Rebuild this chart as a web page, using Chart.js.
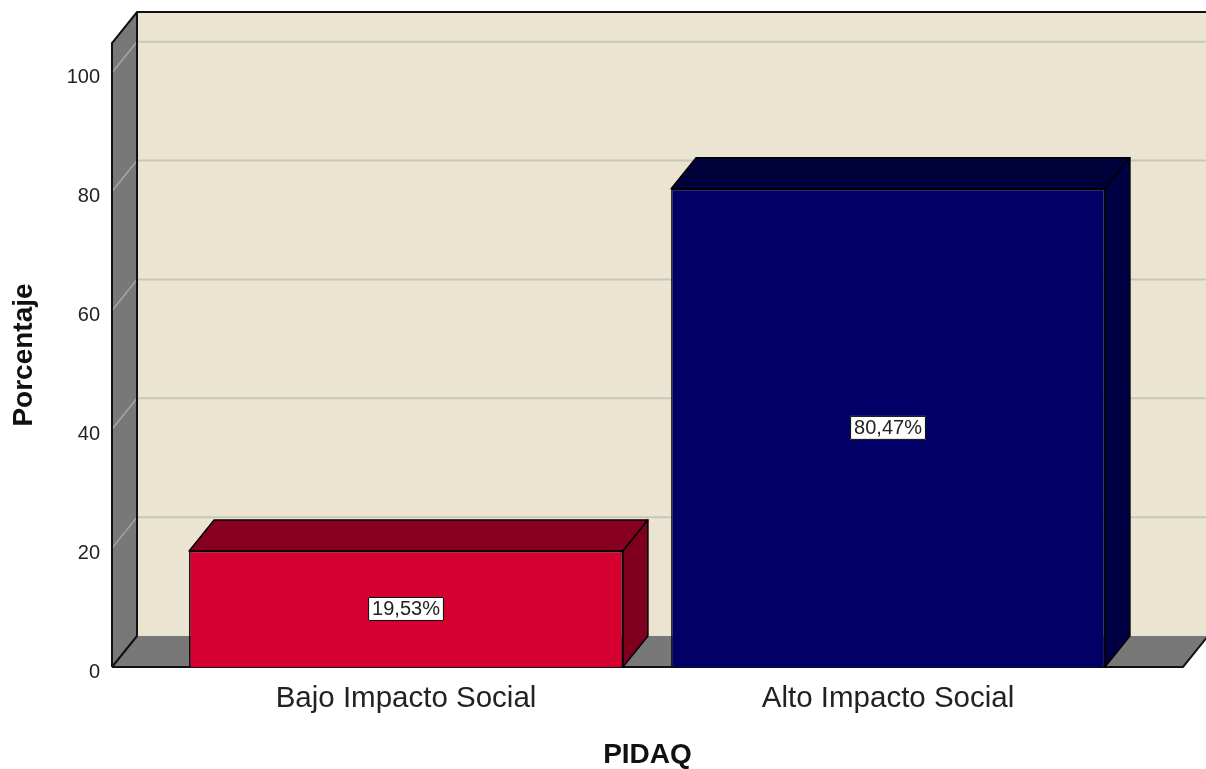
<!DOCTYPE html>
<html>
<head>
<meta charset="utf-8">
<script src="https://cdn.jsdelivr.net/npm/chart.js@4"></script>
<style>
  body { margin: 0; background: #fff; }
  #wrap { width: 1206px; height: 769px; }
</style>
</head>
<body>
<div id="wrap"><canvas id="chart" width="1206" height="769"></canvas></div>
<script>
// data
const categories = ['Bajo Impacto Social', 'Alto Impacto Social'];
const percentValues = [19.53, 80.47];
const valueLabels = ['19,53%', '80,47%'];
const yTickStep = 20;

const frontColors = ['#D60030', '#000066'];
const topColors = ['#870020', '#00003A'];
const sideColors = ['#7E001E', '#000044'];

// 3d depth offset
const DX = 25, DY = -31;
const FONT = 'Liberation Sans, Arial, sans-serif';

const box3d = {
  id: 'box3d',
  beforeDatasetsDraw(chart) {
    const ctx = chart.ctx;
    const a = chart.chartArea;
    const y = chart.scales.y;
    const W = chart.width;
    ctx.save();
    // back wall
    ctx.fillStyle = '#EAE4D0';
    ctx.fillRect(a.left + DX, a.top + DY, W - a.left, a.bottom - a.top);
    // gridlines on back wall
    y.ticks.forEach(t => {
      if (t.value === 0) return;
      const py = y.getPixelForValue(t.value);
      ctx.strokeStyle = '#C9C6BC';
      ctx.lineWidth = 2;
      ctx.beginPath();
      ctx.moveTo(a.left + DX, py + DY);
      ctx.lineTo(W, py + DY);
      ctx.stroke();
    });
    // left wall
    ctx.fillStyle = '#787878';
    ctx.beginPath();
    ctx.moveTo(a.left, a.top);
    ctx.lineTo(a.left + DX, a.top + DY);
    ctx.lineTo(a.left + DX, a.bottom + DY);
    ctx.lineTo(a.left, a.bottom);
    ctx.closePath();
    ctx.fill();
    y.ticks.forEach(t => {
      if (t.value === 0) return;
      const py = y.getPixelForValue(t.value);
      ctx.strokeStyle = '#A5A5A5';
      ctx.lineWidth = 1.5;
      ctx.beginPath();
      ctx.moveTo(a.left, py);
      ctx.lineTo(a.left + DX, py + DY);
      ctx.stroke();
    });
    // floor
    ctx.fillStyle = '#787878';
    ctx.beginPath();
    ctx.moveTo(a.left, a.bottom);
    ctx.lineTo(a.left + DX, a.bottom + DY);
    ctx.lineTo(a.right + DX, a.bottom + DY);
    ctx.lineTo(a.right, a.bottom);
    ctx.closePath();
    ctx.fill();
    // outlines
    ctx.strokeStyle = '#111';
    ctx.lineWidth = 2;
    ctx.beginPath();
    ctx.moveTo(a.left, a.bottom);
    ctx.lineTo(a.left, a.top);
    ctx.lineTo(a.left + DX, a.top + DY);
    ctx.lineTo(W, a.top + DY);
    ctx.moveTo(a.left + DX, a.top + DY);
    ctx.lineTo(a.left + DX, a.bottom + DY);
    ctx.moveTo(a.left, a.bottom);
    ctx.lineTo(a.left + DX, a.bottom + DY);
    ctx.moveTo(a.left, a.bottom);
    ctx.lineTo(a.right, a.bottom);
    ctx.lineTo(a.right + DX, a.bottom + DY);
    ctx.stroke();
    ctx.restore();
  },
  afterDatasetsDraw(chart) {
    const ctx = chart.ctx;
    const meta = chart.getDatasetMeta(0);
    ctx.save();
    ctx.strokeStyle = '#000';
    ctx.lineWidth = 1.5;
    ctx.lineJoin = 'round';
    meta.data.forEach((bar, i) => {
      const l = bar.x - bar.width / 2, r = bar.x + bar.width / 2;
      const t = bar.y, b = bar.base;
      // top face
      ctx.fillStyle = topColors[i];
      ctx.beginPath();
      ctx.moveTo(l, t);
      ctx.lineTo(l + DX, t + DY);
      ctx.lineTo(r + DX, t + DY);
      ctx.lineTo(r, t);
      ctx.closePath();
      ctx.fill();
      ctx.stroke();
      // side face
      ctx.fillStyle = sideColors[i];
      ctx.beginPath();
      ctx.moveTo(r, t);
      ctx.lineTo(r + DX, t + DY);
      ctx.lineTo(r + DX, b + DY);
      ctx.lineTo(r, b);
      ctx.closePath();
      ctx.fill();
      ctx.stroke();
      // value label
      ctx.font = '20px ' + FONT;
      const txt = valueLabels[i];
      const tw = ctx.measureText(txt).width;
      const cy = (t + b) / 2;
      const bw = tw + 8, bh = 24;
      ctx.fillStyle = '#fff';
      ctx.fillRect(bar.x - bw / 2, cy - bh / 2, bw, bh);
      ctx.lineWidth = 1;
      ctx.strokeStyle = '#000';
      ctx.strokeRect(bar.x - bw / 2 + 0.5, cy - bh / 2 + 0.5, bw - 1, bh - 1);
      ctx.fillStyle = '#222';
      ctx.textAlign = 'center';
      ctx.textBaseline = 'middle';
      ctx.fillText(txt, bar.x, cy + 1);
      ctx.lineWidth = 1.5;
    });
    ctx.restore();
  }
};

new Chart(document.getElementById('chart'), {
  type: 'bar',
  data: {
    datasets: [{
      data: percentValues.map((v, i) => ({ x: i, y: v })),
      backgroundColor: frontColors,
      borderColor: '#000',
      borderWidth: 1.5,
      barPercentage: 0.9,
      categoryPercentage: 1
    }]
  },
  options: {
    responsive: false,
    animation: false,
    layout: { padding: { top: 43, right: 23, left: 0, bottom: 0 } },
    plugins: { legend: { display: false }, tooltip: { enabled: false } },
    scales: {
      x: {
        type: 'linear',
        offset: false,
        min: -0.61,
        max: 1.612,
        grid: { display: false, drawTicks: false },
        border: { display: false },
        afterBuildTicks: s => { s.ticks = categories.map((c, i) => ({ value: i })); },
        afterFit: s => { s.height = 102; },
        ticks: {
          callback: v => categories[v],
          autoSkip: false,
          maxRotation: 0,
          padding: 14,
          color: '#222',
          font: { family: FONT, size: 29.5 }
        },
        title: {
          display: true,
          text: 'PIDAQ',
          color: '#111',
          padding: 0,
          font: { family: FONT, size: 28, weight: 'bold', lineHeight: 1 }
        }
      },
      y: {
        min: 0,
        max: 105,
        grid: { display: false, drawTicks: false },
        border: { display: false },
        afterFit: s => { s.width = 112; },
        ticks: {
          stepSize: yTickStep,
          includeBounds: false,
          padding: 12,
          labelOffset: 5,
          color: '#222',
          font: { family: FONT, size: 20 }
        },
        title: {
          display: true,
          text: 'Porcentaje',
          color: '#111',
          padding: { top: 10, bottom: 0 },
          font: { family: FONT, size: 28, weight: 'bold', lineHeight: 1 }
        }
      }
    }
  },
  plugins: [box3d]
});
</script>
</body>
</html>
